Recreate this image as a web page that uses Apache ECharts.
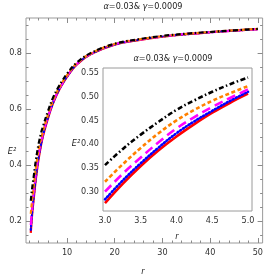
<!DOCTYPE html>
<html><head><meta charset="utf-8">
<script src="https://cdn.jsdelivr.net/npm/echarts@6/dist/echarts.min.js"></script>
<style>html,body{margin:0;padding:0;background:#fff}#c{width:266px;height:280px}</style>
</head><body><div id="c"></div>
<script>
// ---- data ----
const r       = [2.4, 2.55, 2.7, 2.85, 3.0, 3.25, 3.5, 3.75, 4.0, 4.25, 4.5, 4.75, 5.0, 6, 7, 8, 9, 10, 12, 15, 20, 25, 30, 35, 40, 45, 50];
const black   = [0.272,0.296,0.318,0.338,0.356,0.390,0.420,0.447,0.472,0.492,0.510,0.526,0.540,0.592,0.638,0.672,0.701,0.726,0.765,0.800,0.833,0.849,0.861,0.869,0.875,0.881,0.886];
const orange  = [0.225,0.252,0.277,0.300,0.321,0.358,0.392,0.423,0.450,0.472,0.491,0.507,0.522,0.580,0.628,0.665,0.695,0.721,0.762,0.798,0.832,0.848,0.860,0.868,0.875,0.881,0.886];
const magenta = [0.185,0.218,0.248,0.275,0.300,0.338,0.372,0.404,0.433,0.457,0.478,0.497,0.515,0.573,0.622,0.660,0.691,0.718,0.760,0.797,0.831,0.847,0.859,0.868,0.874,0.880,0.885];
const blue    = [0.168,0.203,0.234,0.260,0.284,0.324,0.360,0.393,0.423,0.448,0.470,0.491,0.510,0.569,0.619,0.658,0.689,0.716,0.759,0.796,0.830,0.847,0.859,0.867,0.874,0.880,0.885];
const red     = [0.157,0.194,0.226,0.252,0.276,0.317,0.354,0.387,0.416,0.442,0.466,0.487,0.506,0.566,0.617,0.656,0.688,0.715,0.758,0.796,0.830,0.846,0.858,0.867,0.874,0.880,0.885];

const mainXTicks  = [10, 20, 30, 40, 50];
const mainXMinor  = [2,4,6,8,12,14,16,18,22,24,26,28,32,34,36,38,42,44,46,48];
const mainYTicks  = [0.2, 0.4, 0.6, 0.8];
const mainYMinor  = [0.15,0.25,0.3,0.35,0.45,0.5,0.55,0.65,0.7,0.75,0.85,0.9];
const insetXTicks = [3.0, 3.5, 4.0, 4.5, 5.0];
const insetXMinor = [3.1,3.2,3.3,3.4,3.6,3.7,3.8,3.9,4.1,4.2,4.3,4.4,4.6,4.7,4.8,4.9];
const insetYTicks = [0.30, 0.35, 0.40, 0.45, 0.50, 0.55];
const insetYMinor = [0.27,0.28,0.29,0.31,0.32,0.33,0.34,0.36,0.37,0.38,0.39,0.41,0.42,0.43,0.44,0.46,0.47,0.48,0.49,0.51,0.52,0.53,0.54];
const titleText = '{i|α}=0.03& {i|γ}=0.0009';

// ---- styling / layout ----
const FONT = '"Liberation Sans Narrow","DejaVu Sans Condensed","Liberation Sans",sans-serif';
const FS = 9;
const frameColor = '#9a9a9a';
const tickColor = '#8a8a8a';
const labelColor = '#333';

function axisSet(kind, grid, min, max, majors, minors, fmt, majorLen, minorLen) {
  const pos = kind === 'x' ? ['bottom','top'] : ['left','right'];
  const out = [];
  pos.forEach((p, k) => {
    [[majors, majorLen, k === 0], [minors, minorLen, false]].forEach(([vals, len, lab]) => {
      out.push({
        type: 'value', gridIndex: grid, position: p, min: min, max: max,
        axisLine: { show: false }, splitLine: { show: false },
        axisTick: { show: true, inside: true, length: len, customValues: vals,
                    lineStyle: { color: tickColor, width: 1 } },
        axisLabel: lab ? { show: true, customValues: vals, formatter: fmt,
                           fontSize: FS, fontFamily: FONT, color: labelColor, margin: kind === 'x' ? 5 : 4 }
                       : { show: false }
      });
    });
  });
  return out;
}

const xAxes = [].concat(
  axisSet('x', 0, 1.4, 51, mainXTicks, mainXMinor, v => String(Math.round(v)), 5, 2.5),
  axisSet('x', 1, 2.972, 5.056, insetXTicks, insetXMinor, v => v.toFixed(1), 4, 2)
);
const yAxes = [].concat(
  axisSet('y', 0, 0.121, 0.925, mainYTicks, mainYMinor, v => v.toFixed(1), 5, 2.5),
  axisSet('y', 1, 0.2595, 0.56, insetYTicks, insetYMinor, v => v.toFixed(2), 4, 2)
);

const styles = [
  { name: 'red',     data: red,     color: '#ff0000', type: 'solid' },
  { name: 'blue',    data: blue,    color: '#0000ff', type: [1, 2.4], cap: 'round' },
  { name: 'magenta', data: magenta, color: '#ff00ff', type: [9, 5] },
  { name: 'orange',  data: orange,  color: '#ff8000', type: [4, 2.5] },
  { name: 'black',   data: black,   color: '#000000', type: [5, 2.5, 1.5, 2.5] }
];

const series = [];
styles.forEach((s, k) => {
  const pts = r.map((x, i) => [x, s.data[i]]);
  series.push({
    type: 'line', name: s.name, xAxisIndex: 0, yAxisIndex: 0, data: pts,
    showSymbol: false, smooth: 0.4, z: 2 + k, silent: true,
    lineStyle: { color: s.color, width: 2.2, type: s.type, cap: s.cap || 'butt' }
  });
  series.push({
    type: 'line', name: s.name + '-inset', xAxisIndex: 4, yAxisIndex: 4,
    data: pts.filter(p => p[0] >= 3 && p[0] <= 5),
    showSymbol: false, smooth: 0.4, z: 20 + k, silent: true,
    lineStyle: { color: s.color, width: 2.6, type: s.type, cap: s.cap || 'butt' }
  });
});

const rich = { i: { fontStyle: 'italic', fontSize: FS, fontFamily: FONT, fill: '#222' } };
function txt(x, y, text, italic) {
  return { type: 'text', x: x, y: y, z: 100,
    style: { text: text, fontSize: FS, fontFamily: FONT, fill: '#222',
             fontStyle: italic ? 'italic' : 'normal',
             align: 'center', verticalAlign: 'middle', rich: rich } };
}

const option = {
  animation: false,
  backgroundColor: '#fff',
  grid: [
    { left: 26, top: 18, right: 3, bottom: 37, show: true, borderColor: frameColor, borderWidth: 1, backgroundColor: 'transparent', z: 0 },
    { left: 103, top: 68, right: 14, bottom: 69, show: true, borderColor: frameColor, borderWidth: 1, backgroundColor: '#fff', z: 10 }
  ],
  xAxis: xAxes,
  yAxis: yAxes,
  series: series,
  graphic: [
    txt(143, 7, titleText),
    txt(173, 59, titleText),
    txt(12, 152, 'E²', true),
    txt(76, 144, 'E²', true),
    txt(143, 272, 'r', true),
    txt(177, 237, 'r', true)
  ]
};

const chart = echarts.init(document.getElementById('c'), null, { renderer: 'canvas' });
chart.setOption(option);
</script>
</body></html>
